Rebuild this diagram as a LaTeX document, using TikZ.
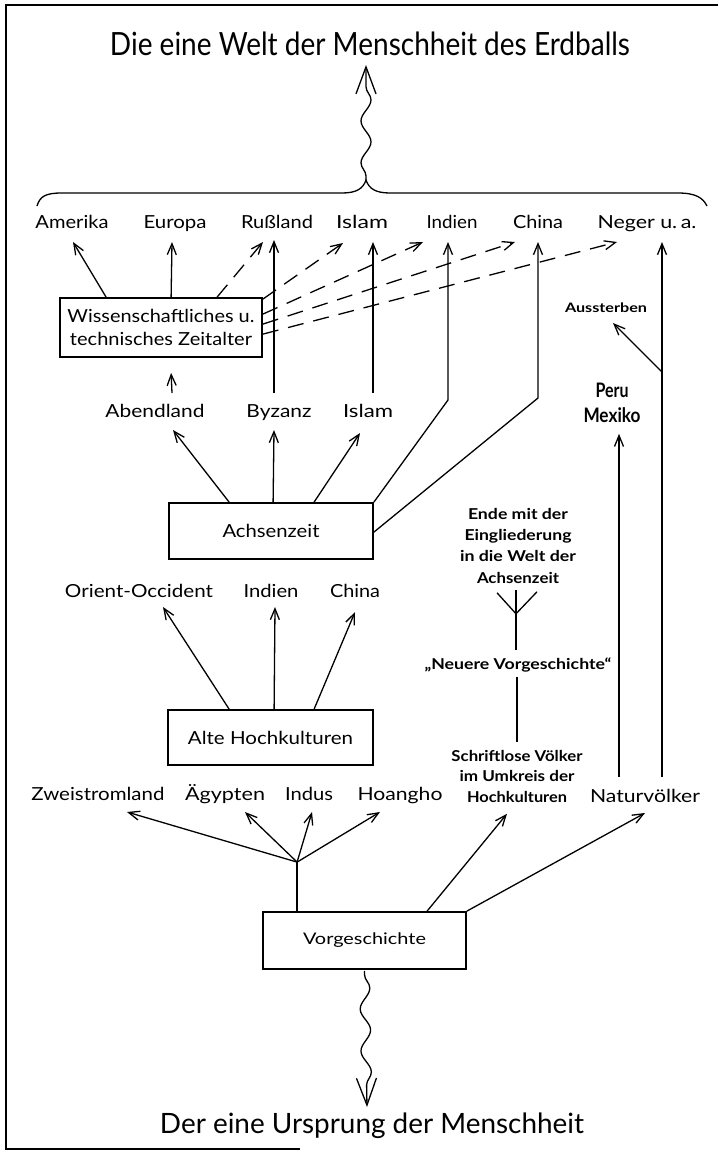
\documentclass[tikz,border=0pt]{standalone}
\usepackage{fontspec}
\setmainfont{Lato}
\usetikzlibrary{arrows.meta,decorations.pathmorphing,calc}
\newcommand\fw[2]{\resizebox{#1pt}{\height}{#2}}
\begin{document}
\begin{tikzpicture}[x=1pt,y=-1pt,line width=1.3pt,
  >={Straight Barb[length=11pt,width=9pt]},
  lab/.style={inner sep=0pt,anchor=base,font=\fontsize{18}{22}\selectfont},
  sml/.style={inner sep=0pt,anchor=base,align=center,font=\fontsize{15}{21.3}\selectfont\bfseries},
  boxn/.style={draw,line width=1.8pt,inner sep=0pt,align=center,font=\fontsize{18}{23}\selectfont},
  conn/.style={->},
  dconn/.style={->,dash pattern=on 16pt off 10pt},
  wavy/.style={decorate,decoration={snake,segment length=42pt,amplitude=5pt,pre length=4pt,post length=14pt}},
  bigtip/.style={-{Straight Barb[length=27pt,width=20pt]}}
]
\useasboundingbox (0,0) rectangle (718,1167);
% frame
\draw[line width=1.2pt] (300,1149) -- (6,1149) -- (6,5) -- (718,5);

% texts
\node[lab,font=\fontsize{32}{36}\selectfont] (title) at (370,55) {\fw{520}{Die eine Welt der Menschheit des Erdballs}};
\node[lab,font=\fontsize{28}{32}\selectfont] (origin) at (372,1133) {\fw{424}{Der eine Ursprung der Menschheit}};

\node[lab] (amerika) at (72,228) {\fw{73}{Amerika}};
\node[lab] (europa) at (175,228) {\fw{63}{Europa}};
\node[lab] (russ) at (277,228) {\fw{72}{Rußland}};
\node[lab] (islamA) at (362,228) {\fw{52}{Islam}};
\node[lab] (indienA) at (452,228) {\fw{51}{Indien}};
\node[lab] (chinaA) at (538,228) {\fw{50}{China}};
\node[lab] (neger) at (647,228) {\fw{99}{Neger u.\,a.}};

\node[lab] (abend) at (155,417) {\fw{99}{Abendland}};
\node[lab] (byz) at (279,417) {\fw{65}{Byzanz}};
\node[lab] (islamB) at (368,417) {\fw{50}{Islam}};

\node[lab] (orient) at (139,597) {\fw{148}{Orient-Occident}};
\node[lab] (indienB) at (271,597) {\fw{55}{Indien}};
\node[lab] (chinaB) at (355,597) {\fw{50}{China}};

\node[lab] (zwei) at (98,800) {\fw{133}{Zweistromland}};
\node[lab] (aeg) at (225,800) {\fw{80}{Ägypten}};
\node[lab] (indus) at (309,800) {\fw{48}{Indus}};
\node[lab] (hoang) at (400,800) {\fw{85}{Hoangho}};
\node[lab] (natur) at (645,802) {\fw{110}{Naturvölker}};

\node[sml,font=\fontsize{15}{20.5}\selectfont\bfseries] (schrift) at (517,802) {\fw{131}{Schriftlose Völker}\\\fw{115}{im Umkreis der}\\\fw{100}{Hochkulturen}};
\node[sml] (ende) at (518,583) {\fw{100}{Ende mit der}\\\fw{107}{Eingliederung}\\\fw{116}{in die Welt der}\\\fw{82}{Achsenzeit}};
\node[sml] (neuere) at (518,669) {\fw{187}{„Neuere Vorgeschichte“}};
\node[lab,font=\fontsize{13}{15}\selectfont\bfseries] (aus) at (606,312) {\fw{82}{Aussterben}};
\node[sml,font=\fontsize{20}{25}\selectfont\bfseries] (pm) at (612,422) {\fw{33}{Peru}\\\fw{57}{Mexiko}};

% boxes
\node[boxn,minimum width=202pt,minimum height=59pt] (wiss) at (161,327.5) {\fw{187}{Wissenschaftliches u.}\\\fw{182}{technisches Zeitalter}};
\node[boxn,minimum width=204pt,minimum height=56pt] (achs) at (271,531) {\fw{97}{Achsenzeit}};
\node[boxn,minimum width=205pt,minimum height=55pt] (alte) at (270.5,737.5) {\fw{165}{Alte Hochkulturen}};
\node[boxn,minimum width=203pt,minimum height=57pt,font=\fontsize{16}{20}\selectfont] (vorg) at (364.5,940.5) {\fw{123}{Vorgeschichte}};

% brace and waves
\coordinate (btip) at (366,180);
\draw (37,206) .. controls (40,196) and (46,193) .. (62,193) -- (342,193) .. controls (356,193) and (363,189) .. (btip) .. controls (369,189) and (376,193) .. (390,193) -- (678,193) .. controls (696,193) and (703,198) .. (707,206);
\draw[wavy,bigtip] (btip) -- ($(title.base)+(-4,10)$);
\draw[wavy,bigtip] ($(vorg.south)+(0,1)$) -- ($(origin.base)+(-5,-26)$);

% Wissenschaftliches Zeitalter
\draw[conn] ($(wiss.north west)+(47,0)$) -- ($(amerika.base)+(1,14)$);
\draw[conn] ($(wiss.north west)+(112,0)$) -- ($(europa.base)+(-3,14)$);
\draw[dconn] ($(wiss.north west)+(158,0)$) -- ($(russ.base)+(-14,14)$);
\draw[dconn] ($(wiss.north east)+(0,2)$) -- ($(islamA.base)+(-19,15)$);
\draw[dconn] ($(wiss.north east)+(0,17)$) -- ($(indienA.base)+(-29,14)$);
\draw[dconn] ($(wiss.north east)+(0,27)$) -- ($(chinaA.base)+(-23,14)$);
\draw[dconn] ($(wiss.north east)+(0,37)$) -- ($(neger.base)+(-30,14)$);
\draw[conn] ($(abend.base)+(17,-24)$) -- ($(wiss.south west)+(112,15)$);

\draw[conn] ($(byz.base)+(-5,-24)$) -- ($(russ.base)+(-3,12)$);
\draw[conn] ($(islamB.base)+(5,-24)$) -- ($(islamA.base)+(11,14)$);

% Achsenzeit
\draw[conn] (achs.north east) -- ($(indienA.base)+(-4,172)$) -- ($(indienA.base)+(-4,14)$);
\draw[conn] ($(achs.north east)+(0,30)$) -- ($(chinaA.base)+(0,170)$) -- ($(chinaA.base)+(0,14)$);
\draw[conn] ($(achs.north west)+(61,0)$) -- ($(abend.base)+(18,13)$);
\draw[conn] ($(achs.north west)+(105,0)$) -- ($(byz.base)+(-5,13)$);
\draw[conn] ($(achs.north west)+(146,0)$) -- ($(islamB.base)+(-8,16)$);

% Alte Hochkulturen
\draw[conn] ($(alte.north west)+(62,0)$) -- ($(orient.base)+(24,10)$);
\draw[conn] ($(alte.north west)+(107,0)$) -- ($(indienB.base)+(4,10)$);
\draw[conn] ($(alte.north west)+(147,0)$) -- ($(chinaB.base)+(0,15)$);

% Vorgeschichte
\draw ($(vorg.north west)+(35,0)$) -- ($(vorg.north west)+(35,-49)$) coordinate (fan);
\draw[conn] (fan) -- ($(zwei.base)+(29,12)$);
\draw[conn] (fan) -- ($(aeg.base)+(20,12)$);
\draw[conn] (fan) -- ($(indus.base)+(3,12)$);
\draw[conn] (fan) -- ($(hoang.base)+(-20,12)$);
\draw[conn] ($(vorg.north west)+(165,0)$) -- ($(schrift.south)+(-10,11)$);
\draw[conn] (vorg.north east) -- ($(natur.base)+(0,11)$);

% right side
\draw ($(schrift.north)+(0,-7)$) -- ($(neuere.base)+(-1,8)$);
\draw ($(neuere.base)+(-2,-19)$) -- ($(ende.south)+(-2,30)$) coordinate (fork) -- ($(ende.south)+(-2,6)$);
\draw ($(ende.south)+(-21,9)$) -- (fork) -- ($(ende.south)+(19,8)$);
\draw[conn] ($(natur.base)+(17,-25)$) -- ($(neger.base)+(15,14)$);
\draw[conn] ($(natur.base)+(-26,-25)$) -- ($(pm.south)+(7,11)$);
\draw[conn] ($(neger.base)+(15,144)$) -- ($(aus.base)+(7,11)$);
\end{tikzpicture}
\end{document}
